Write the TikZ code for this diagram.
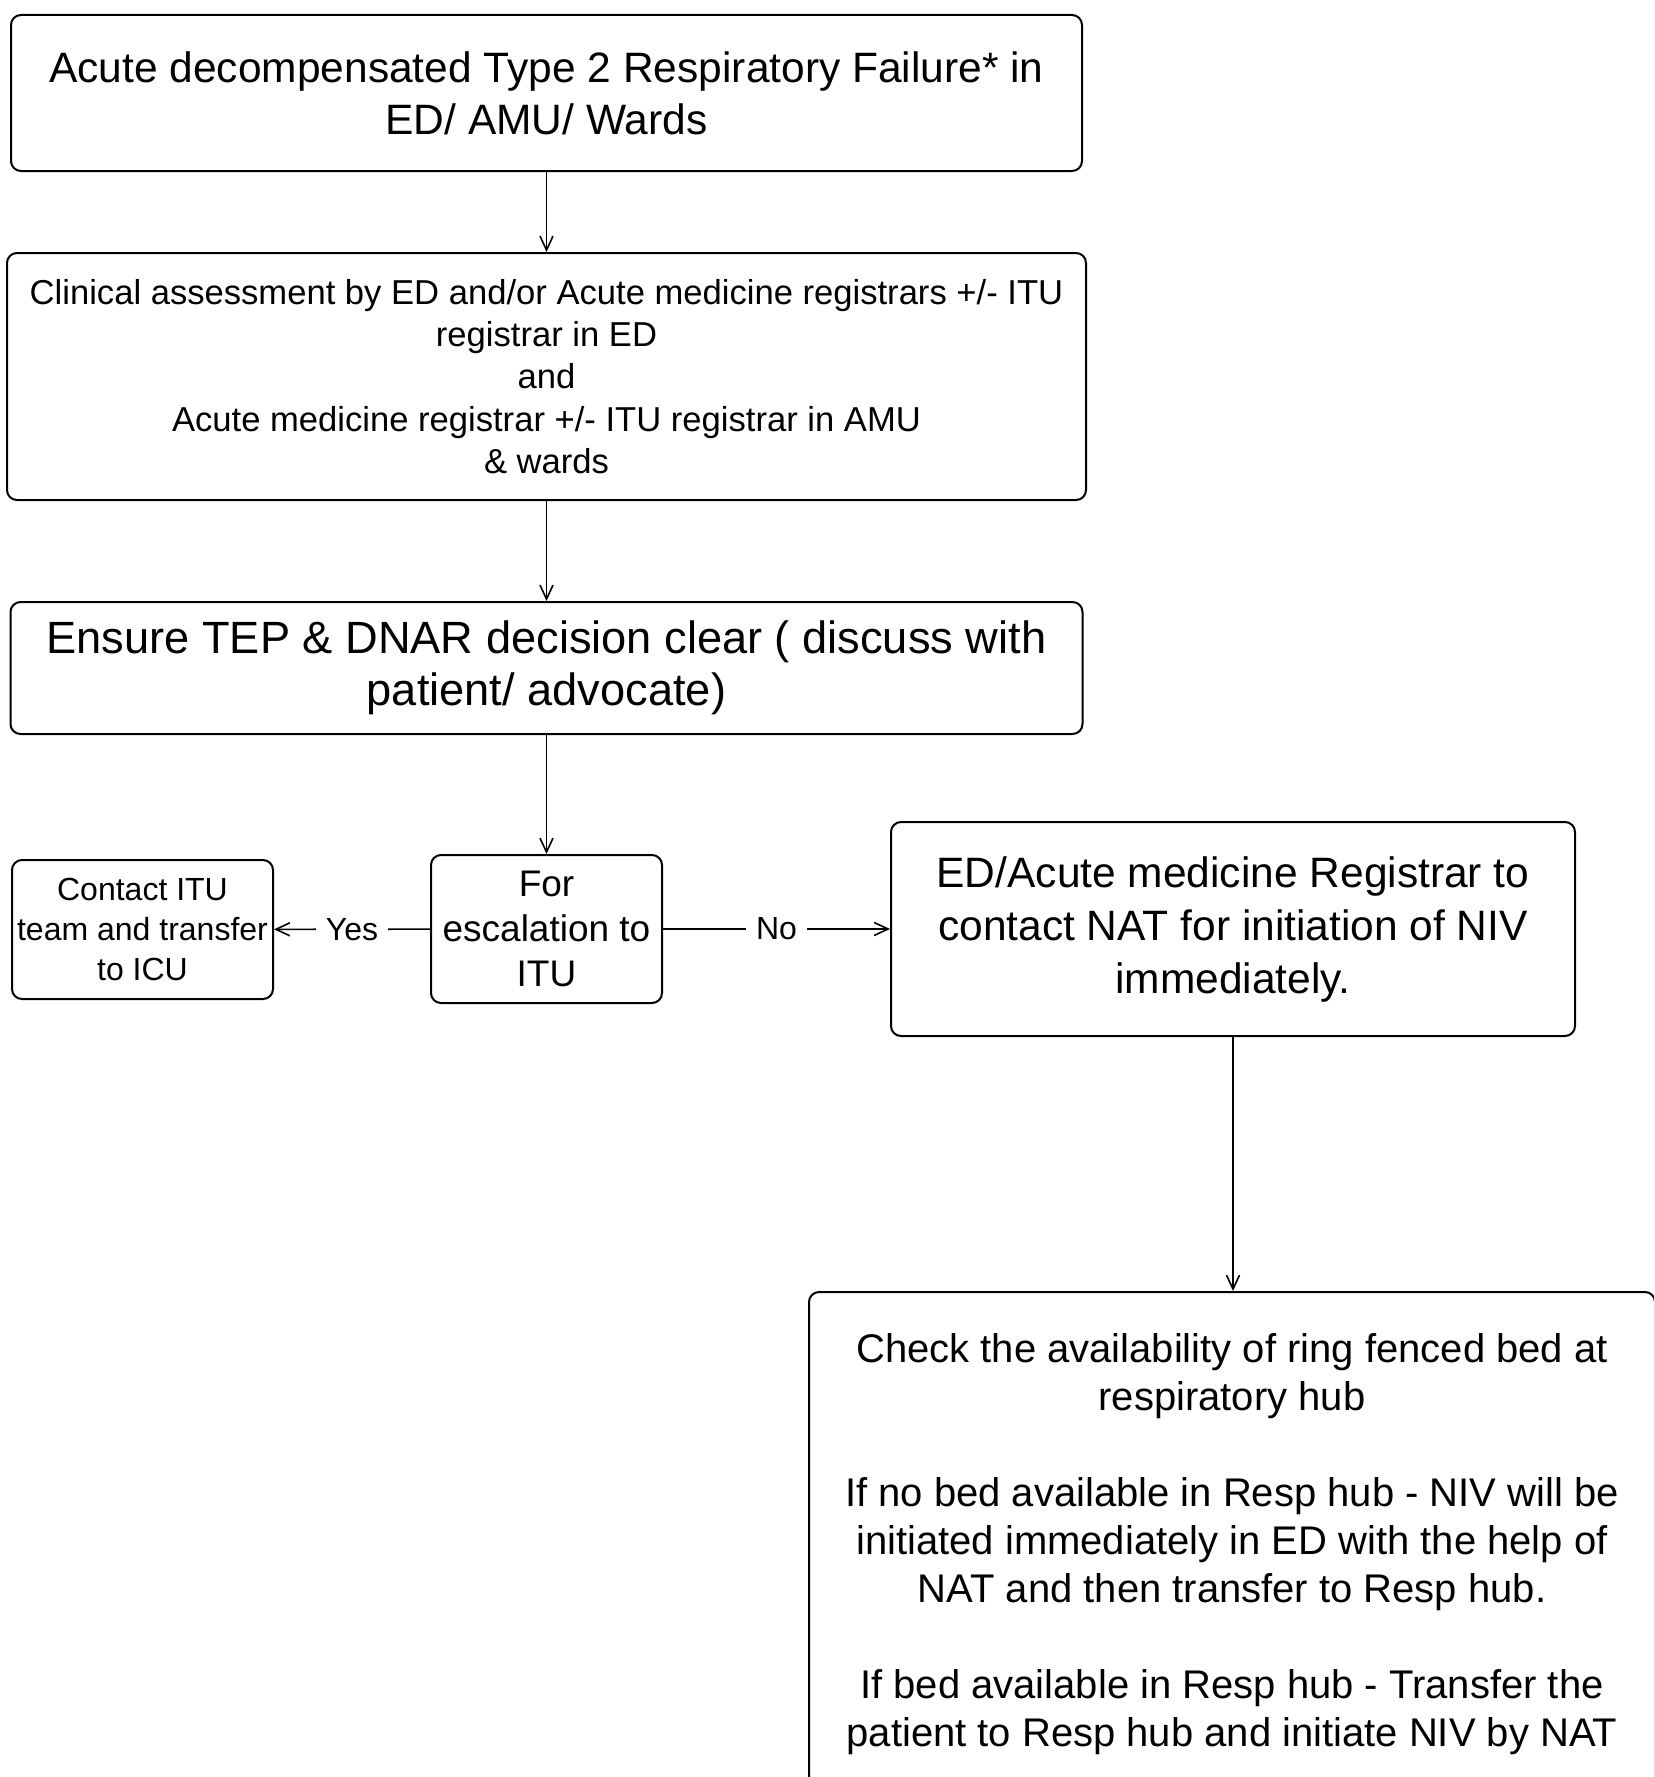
\documentclass[tikz,border=0pt]{standalone}
\usepackage{fontspec}
\setmainfont{Liberation Sans}
\usetikzlibrary{arrows.meta}
\begin{document}
\begin{tikzpicture}[x=1pt,y=-1pt,
  box/.style={draw, line width=2pt, rounded corners=10pt, align=center, inner sep=0pt, anchor=center},
  arr/.style={line width=1.6pt, -{Straight Barb[length=14pt,width=13pt,line width=1.6pt]}},
  lbl/.style={fill=white, inner xsep=10pt, inner ysep=3pt, font=\fontsize{32}{38}\selectfont}]
\clip (0,0) rectangle (1654,1777);
\fill[white] (0,0) rectangle (1654,1777);

\node[box, minimum width=1071pt, minimum height=156pt, font=\fontsize{42.5}{52}\selectfont] (b1) at (546.5,93)
  {Acute decompensated Type 2 Respiratory Failure* in\\ED/ AMU/ Wards};

\node[box, minimum width=1079pt, minimum height=247pt, font=\fontsize{34.6}{42.3}\selectfont] (b2) at (546.5,376.5)
  {Clinical assessment by ED and/or Acute medicine registrars +/- ITU\\registrar in ED\\and\\Acute medicine registrar +/- ITU registrar in AMU\\\& wards};

\node[box, minimum width=1072pt, minimum height=132pt, font=\fontsize{45.2}{52}\selectfont] (b3) at (546.5,668)
  {\rule{0pt}{7pt}Ensure TEP \& DNAR decision clear ( discuss with\\patient/ advocate)};

\node[box, minimum width=231pt, minimum height=148pt, font=\fontsize{37}{45}\selectfont] (esc) at (546.5,929)
  {For\\escalation to\\ITU};

\node[box, minimum width=261pt, minimum height=139pt, font=\fontsize{32}{40}\selectfont] (itu) at (142.5,929.5)
  {Contact ITU\\team and transfer\\to ICU};

\node[box, minimum width=684pt, minimum height=214pt, font=\fontsize{42.5}{53}\selectfont] (nat) at (1233,929)
  {ED/Acute medicine Registrar to\\contact NAT for initiation of NIV\\immediately.};

\node[box, minimum width=846pt, minimum height=504pt, font=\fontsize{40}{48}\selectfont] (bot) at (1232,1544)
  {Check the availability of ring fenced bed at\\respiratory hub\\[48pt]If no bed available in Resp hub - NIV will be\\initiated immediately in ED with the help of\\NAT and then transfer to Resp hub.\\[48pt]If bed available in Resp hub - Transfer the\\patient to Resp hub and initiate NIV by NAT};

\draw[arr] (b1) -- (b2);
\draw[arr] (b2) -- (b3);
\draw[arr] (b3) -- (esc);
\draw[arr] (esc) -- node[lbl] {Yes} (itu);
\draw[arr] (esc) -- node[lbl] {No} (nat);
\draw[arr] (nat.south) -- (nat.south |- bot.north);
\end{tikzpicture}
\end{document}
